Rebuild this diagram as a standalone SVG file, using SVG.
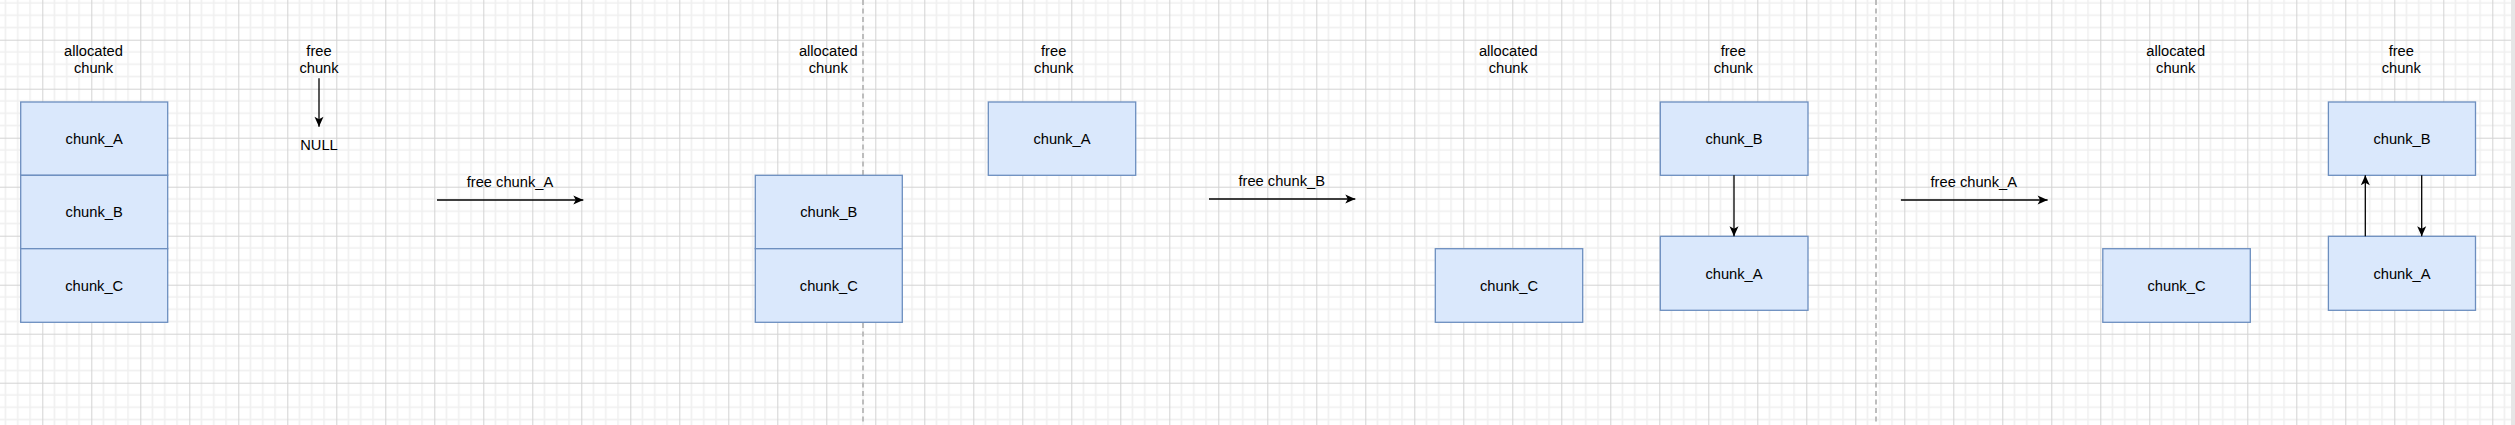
<svg xmlns="http://www.w3.org/2000/svg" width="2515" height="425" viewBox="0 0 2515 425">
  <style>
    .box { fill: #dae8fc; stroke: #6c8ebf; stroke-width: 1.3; }
    .t { font-family: "Liberation Sans", Arial, sans-serif; font-size: 14.7px; fill: #000; text-anchor: middle; }
    .edge { stroke: #000; stroke-width: 1.3; fill: none; marker-end: url(#arrow); }
    .sep { stroke: #bdbdbd; stroke-width: 2; stroke-dasharray: 5 3.5; }
  </style>
  <defs>
    <pattern id="grid" patternUnits="userSpaceOnUse" x="42.3" y="39.7" width="49" height="49">
      <rect width="49" height="49" fill="#ffffff"/>
      <path d="M12.25 0V49M24.5 0V49M36.75 0V49M0 12.25H49M0 24.5H49M0 36.75H49" stroke="#efefef" stroke-width="1.5"/>
      <path d="M0.5 0V49M0 0.5H49" stroke="#d3d3d3" stroke-width="1"/>
    </pattern>
    <marker id="arrow" markerUnits="userSpaceOnUse" markerWidth="12" markerHeight="12" viewBox="0 0 12 12" refX="11" refY="6" orient="auto">
      <path d="M1 1.5L11 6L1 10.5L3.5 6Z" fill="#000"/>
    </marker>
  </defs>
  <rect x="0" y="0" width="2515" height="425" fill="url(#grid)"/>
  <rect x="2511" y="0" width="4" height="425" fill="#e6e6e6"/>

  <g id="separators">
    <line class="sep" x1="863" y1="0" x2="863" y2="425"/>
    <line class="sep" x1="1876" y1="0" x2="1876" y2="425"/>
  </g>

  <!-- Panel 1 -->
  <g id="label-alloc-1"><text class="t" x="93.5" y="55.5">allocated</text><text class="t" x="93.5" y="73.3">chunk</text></g>
  <g id="label-free-1"><text class="t" x="319" y="55.5">free</text><text class="t" x="319" y="73.3">chunk</text></g>
  <g id="null-1"><text class="t" x="319" y="150">NULL</text></g>
  <g id="p1-chunk_A"><rect class="box" x="20.7" y="102" width="147" height="73.3"/><text class="t" x="94.2" y="144">chunk_A</text></g>
  <g id="p1-chunk_B"><rect class="box" x="20.7" y="175.3" width="147" height="73.4"/><text class="t" x="94.2" y="217.3">chunk_B</text></g>
  <g id="p1-chunk_C"><rect class="box" x="20.7" y="248.7" width="147" height="73.6"/><text class="t" x="94.2" y="290.7">chunk_C</text></g>

  <!-- Panel 2 -->
  <g id="label-alloc-2"><text class="t" x="828.3" y="55.5">allocated</text><text class="t" x="828.3" y="73.3">chunk</text></g>
  <g id="label-free-2"><text class="t" x="1053.7" y="55.5">free</text><text class="t" x="1053.7" y="73.3">chunk</text></g>
  <g id="p2-chunk_B"><rect class="box" x="755.3" y="175.3" width="147" height="73.4"/><text class="t" x="828.8" y="217.3">chunk_B</text></g>
  <g id="p2-chunk_C"><rect class="box" x="755.3" y="248.7" width="147" height="73.6"/><text class="t" x="828.8" y="290.7">chunk_C</text></g>
  <g id="p2-chunk_A"><rect class="box" x="988.3" y="102" width="147.4" height="73.3"/><text class="t" x="1062" y="144">chunk_A</text></g>

  <!-- Panel 3 -->
  <g id="label-alloc-3"><text class="t" x="1508.3" y="55.5">allocated</text><text class="t" x="1508.3" y="73.3">chunk</text></g>
  <g id="label-free-3"><text class="t" x="1733.3" y="55.5">free</text><text class="t" x="1733.3" y="73.3">chunk</text></g>
  <g id="p3-chunk_C"><rect class="box" x="1435.3" y="248.7" width="147.4" height="73.6"/><text class="t" x="1509" y="290.7">chunk_C</text></g>
  <g id="p3-chunk_B"><rect class="box" x="1660.3" y="102" width="147.7" height="73.3"/><text class="t" x="1734" y="144">chunk_B</text></g>
  <g id="p3-chunk_A"><rect class="box" x="1660.3" y="236.3" width="147.7" height="74"/><text class="t" x="1734" y="278.5">chunk_A</text></g>

  <!-- Panel 4 -->
  <g id="label-alloc-4"><text class="t" x="2175.7" y="55.5">allocated</text><text class="t" x="2175.7" y="73.3">chunk</text></g>
  <g id="label-free-4"><text class="t" x="2401.3" y="55.5">free</text><text class="t" x="2401.3" y="73.3">chunk</text></g>
  <g id="p4-chunk_C"><rect class="box" x="2102.8" y="248.7" width="147.5" height="73.6"/><text class="t" x="2176.5" y="290.7">chunk_C</text></g>
  <g id="p4-chunk_B"><rect class="box" x="2328.4" y="102" width="147.1" height="73.3"/><text class="t" x="2402" y="144">chunk_B</text></g>
  <g id="p4-chunk_A"><rect class="box" x="2328.4" y="236.3" width="147.1" height="74"/><text class="t" x="2402" y="278.5">chunk_A</text></g>

  <!-- Transition labels -->
  <g id="step-1"><text class="t" x="510" y="187.3">free chunk_A</text></g>
  <g id="step-2"><text class="t" x="1281.7" y="185.5">free chunk_B</text></g>
  <g id="step-3"><text class="t" x="1973.8" y="187.3">free chunk_A</text></g>

  <g id="connectors">
    <line class="edge" x1="319" y1="78.3" x2="319" y2="126.7"/>
    <line class="edge" x1="437" y1="200" x2="583.3" y2="200"/>
    <line class="edge" x1="1209" y1="199" x2="1355.3" y2="199"/>
    <line class="edge" x1="1900.9" y1="200" x2="2047.6" y2="200"/>
    <line class="edge" x1="1734" y1="175.3" x2="1734" y2="236.3"/>
    <line class="edge" x1="2365.3" y1="236.3" x2="2365.3" y2="175.3"/>
    <line class="edge" x1="2421.7" y1="175.3" x2="2421.7" y2="236.3"/>
  </g>
</svg>
